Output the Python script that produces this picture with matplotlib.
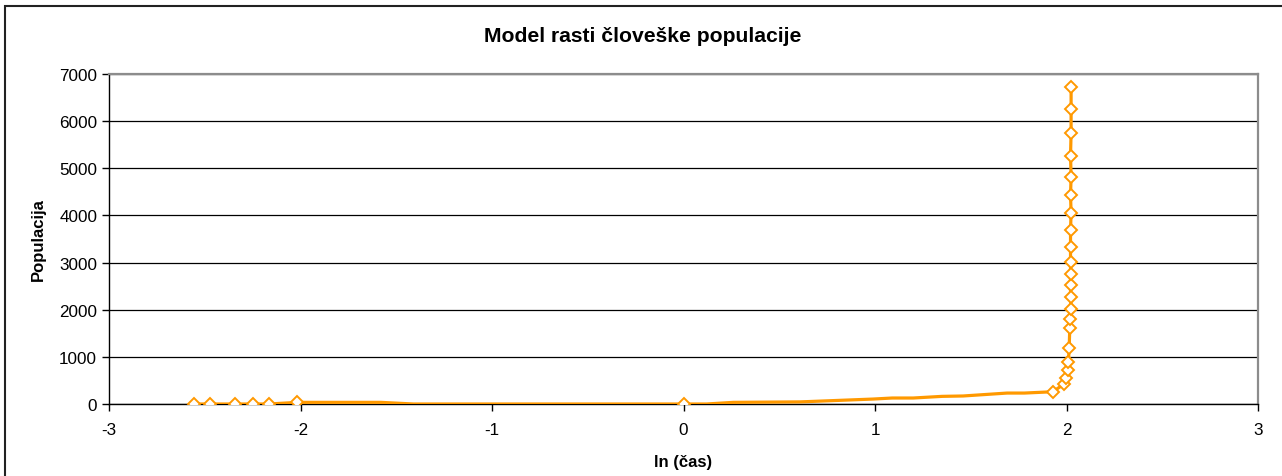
import numpy as np
import matplotlib
matplotlib.use("Agg")
from matplotlib import pyplot as plt
from matplotlib.patches import Rectangle

plt.rcParams["font.family"] = ["Liberation Sans", "DejaVu Sans"]
plt.rcParams["axes.unicode_minus"] = False

# ln(time) and population, full path of the line
ln_t = [-2.554, -2.472, -2.342, -2.25, -2.165, -2.016, -1.58, -1.41, 0.0, 0.12, 0.26,
        0.61, 0.99, 1.09, 1.2, 1.35, 1.46, 1.69, 1.78, 1.929, 1.986, 1.998, 2.007,
        2.010, 2.014, 2.017, 2.017, 2.024, 2.021, 2.021, 2.021, 2.021, 2.021, 2.021,
        2.024, 2.021, 2.024, 2.021, 2.024, 2.024, 2.024]
population = [0, 0, 0, 0, 0, 35, 35, 0, 0, 0, 35,
              45, 105, 127, 127, 162, 170, 232, 232, 260, 420, 545, 725,
              895, 1180, 1610, 1810, 2020, 2280, 2515, 2750, 3020, 3325, 3685,
              4060, 4425, 4825, 5270, 5755, 6250, 6730]
# points that carry a marker (the rest are only on the line)
marked = [0, 1, 2, 3, 4, 5, 8] + list(range(19, 41))

fig = plt.figure(figsize=(12.82, 4.77), dpi=100)
ax = fig.add_axes([109 / 1282, 72 / 477, (1258 - 109) / 1282, (405 - 75) / 477])

orange = "#FF9900"
ax.plot(ln_t, population, color=orange, lw=2.3, solid_joinstyle="round", zorder=3)
mx = [ln_t[i] for i in marked]
my = [population[i] for i in marked]
ax.plot(mx, my, ls="none", marker="D", ms=6.3, mfc="white", mec=orange, mew=1.4, zorder=4)

ax.set_xlim(-3, 3)
ax.set_ylim(0, 7000)
ax.set_xticks(np.arange(-3, 4, 1))
ax.set_yticks(np.arange(0, 7001, 1000))
ax.tick_params(direction="out", length=5, width=1, labelsize=12.3, colors="black")
ax.tick_params(axis="x", pad=8)
ax.yaxis.grid(True, color="black", lw=0.9)
ax.set_axisbelow(True)

for side in ["left", "bottom"]:
    ax.spines[side].set_color("black")
    ax.spines[side].set_linewidth(1)
for side in ["top", "right"]:
    ax.spines[side].set_color("#8c8c8c")
    ax.spines[side].set_linewidth(1.6)

fig.text(643 / 1282, 1 - 36 / 477, "Model rasti človeške populacije", ha="center", va="center",
         fontsize=15.2, fontweight="bold")
fig.text(683 / 1282, 1 - 463 / 477, "ln (čas)", ha="center", va="center",
         fontsize=12, fontweight="bold")
fig.text(38 / 1282, 1 - 240 / 477, "Populacija", ha="center", va="center",
         fontsize=12, fontweight="bold", rotation=90)

# outer chart border
fig.patches.append(Rectangle((4.5 / 1282, -0.1), 1.2, 1 - 7 / 477 + 0.1, transform=fig.transFigure,
                             fill=False, edgecolor="#222222", lw=1.5))

fig.savefig("out.png", dpi=100)
